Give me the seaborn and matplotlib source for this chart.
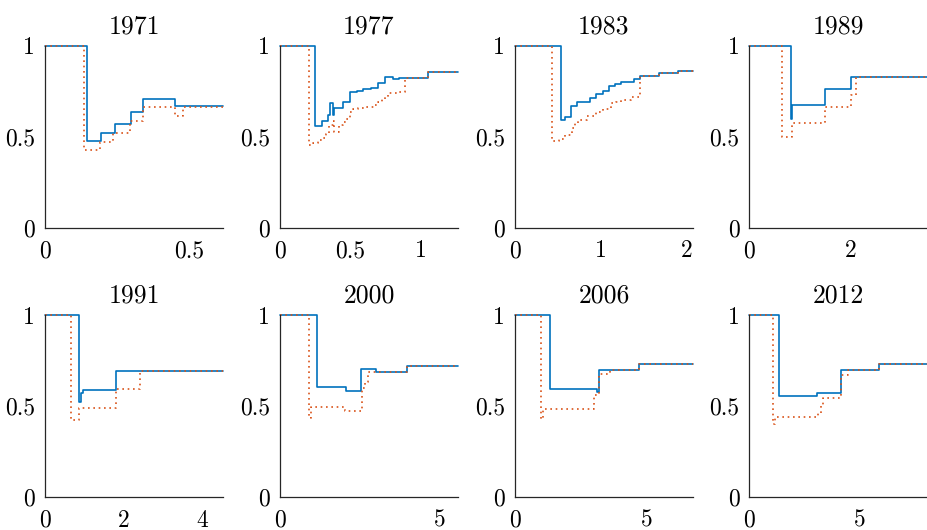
import matplotlib
matplotlib.use("Agg")
import matplotlib.pyplot as plt
import seaborn as sns
import pandas as pd

# panel titles and x-axis ranges
years = ["1971", "1977", "1983", "1989", "1991", "2000", "2006", "2012"]
xmax = [0.62, 1.26, 2.08, 3.52, 4.53, 5.56, 6.74, 8.07]
xticks = [[0, 0.5], [0, 0.5, 1], [0, 1, 2], [0, 2],
          [0, 2, 4], [0, 5], [0, 5], [0, 5]]
yticks = [0, 0.5, 1]

# solid blue series: step start x and level
blue_x = [
    [0, 0.147, 0.194, 0.244, 0.297, 0.339, 0.453],
    [0, 0.249, 0.296, 0.343, 0.355, 0.378, 0.386, 0.444, 0.496, 0.543,
     0.590, 0.644, 0.696, 0.743, 0.80, 0.844, 1.045],
    [0, 0.545, 0.584, 0.659, 0.729, 0.874, 0.945, 1.024, 1.094, 1.168,
     1.239, 1.388, 1.462, 1.678, 1.90],
    [0, 0.815, 0.85, 1.49, 2.0],
    [0, 0.852, 0.92, 0.97, 1.79],
    [0, 1.17, 2.06, 2.54, 3.0, 3.98],
    [0, 1.33, 3.10, 3.17, 4.71],
    [0, 1.35, 3.08, 4.14, 5.88],
]
blue_y = [
    [1, 0.476, 0.522, 0.568, 0.634, 0.707, 0.667],
    [1, 0.560, 0.586, 0.619, 0.683, 0.619, 0.659, 0.689, 0.746, 0.753,
     0.760, 0.768, 0.797, 0.830, 0.815, 0.824, 0.853],
    [1, 0.592, 0.610, 0.669, 0.692, 0.711, 0.733, 0.751, 0.779, 0.790,
     0.802, 0.815, 0.835, 0.848, 0.861],
    [1, 0.60, 0.674, 0.760, 0.826],
    [1, 0.524, 0.570, 0.588, 0.692],
    [1, 0.603, 0.584, 0.703, 0.689, 0.722],
    [1, 0.595, 0.575, 0.700, 0.731],
    [1, 0.557, 0.573, 0.698, 0.729],
]

# dotted orange series
orange_x = [
    [0, 0.135, 0.191, 0.237, 0.295, 0.339, 0.451, 0.478],
    [0, 0.209, 0.237, 0.268, 0.296, 0.327, 0.35, 0.374, 0.385, 0.418,
     0.444, 0.468, 0.496, 0.52, 0.555, 0.595, 0.637, 0.673, 0.696, 0.72,
     0.743, 0.767, 0.80, 0.837, 0.884, 1.045],
    [0, 0.435, 0.52, 0.59, 0.666, 0.70, 0.737, 0.843, 0.953, 1.03, 1.118,
     1.176, 1.235, 1.353, 1.404, 1.462, 1.678, 1.90],
    [0, 0.636, 0.848, 1.49, 2.0, 2.11],
    [0, 0.667, 0.87, 1.79, 2.42],
    [0, 0.90, 0.97, 2.04, 2.56, 2.66, 2.76, 3.98],
    [0, 0.99, 1.07, 2.99, 3.19, 3.6, 4.71],
    [0, 1.09, 1.17, 3.1, 3.22, 3.32, 4.14, 4.45, 5.88],
]
orange_y = [
    [1, 0.427, 0.473, 0.518, 0.588, 0.661, 0.614, 0.665],
    [1, 0.454, 0.467, 0.482, 0.495, 0.515, 0.564, 0.588, 0.528, 0.564,
     0.579, 0.595, 0.637, 0.652, 0.659, 0.665, 0.665, 0.674, 0.692, 0.705,
     0.720, 0.738, 0.742, 0.746, 0.824, 0.853],
    [1, 0.476, 0.49, 0.509, 0.546, 0.573, 0.592, 0.614, 0.634, 0.652,
     0.683, 0.692, 0.702, 0.716, 0.720, 0.835, 0.848, 0.861],
    [1, 0.50, 0.577, 0.661, 0.729, 0.826],
    [1, 0.423, 0.487, 0.593, 0.692],
    [1, 0.432, 0.493, 0.474, 0.597, 0.63, 0.689, 0.722],
    [1, 0.429, 0.482, 0.560, 0.674, 0.700, 0.731],
    [1, 0.399, 0.441, 0.46, 0.50, 0.542, 0.67, 0.698, 0.729],
]

BLUE = "#0072BD"
ORANGE = "#D95319"
INK = "#262626"

sns.set_style("white")
plt.rcParams["font.family"] = ["cmr10", "DejaVu Serif"]
plt.rcParams["axes.formatter.use_mathtext"] = True

fig = plt.figure(figsize=(9.28, 5.30), dpi=100)

lefts = [45, 279.7, 514.7, 749.3]
bottoms = [227.7, 497]
W, H = 928, 530


def stairs(xs, ys, end):
    # extend the last level to the right edge of the axes
    return pd.DataFrame({"x": list(xs) + [end], "y": list(ys) + [ys[-1]]})


for i, year in enumerate(years):
    row, col = divmod(i, 4)
    ax = fig.add_axes([lefts[col] / W, 1 - bottoms[row] / H, 178.5 / W, 182 / H])

    b = stairs(blue_x[i], blue_y[i], xmax[i])
    o = stairs(orange_x[i], orange_y[i], xmax[i])
    sns.lineplot(data=b, x="x", y="y", ax=ax, color=BLUE, linewidth=1.2,
                 drawstyle="steps-post", estimator=None, sort=False, clip_on=False)
    sns.lineplot(data=o, x="x", y="y", ax=ax, color=ORANGE, linewidth=1.2,
                 linestyle=(0, (1, 2.2)), drawstyle="steps-post",
                 estimator=None, sort=False, clip_on=False)

    ax.set_xlim(0, xmax[i])
    ax.set_ylim(0, 1)
    ax.set_xticks(xticks[i])
    ax.set_xticklabels([f"{v:g}" for v in xticks[i]])
    ax.set_yticks(yticks)
    ax.set_yticklabels([f"{v:g}" for v in yticks])
    ax.set_xlabel("")
    ax.set_ylabel("")
    ax.tick_params(direction="in", length=3, width=0.75, color=INK,
                   labelsize=17, labelcolor="black")
    ax.tick_params(axis="x", pad=9)
    ax.tick_params(axis="y", pad=7)
    for s in ["top", "right"]:
        ax.spines[s].set_visible(False)
    for s in ["left", "bottom"]:
        ax.spines[s].set_color(INK)
        ax.spines[s].set_linewidth(0.9)
    ax.set_title(year, fontsize=18.5, pad=9, color="black")

fig.savefig("out.png", dpi=100)
